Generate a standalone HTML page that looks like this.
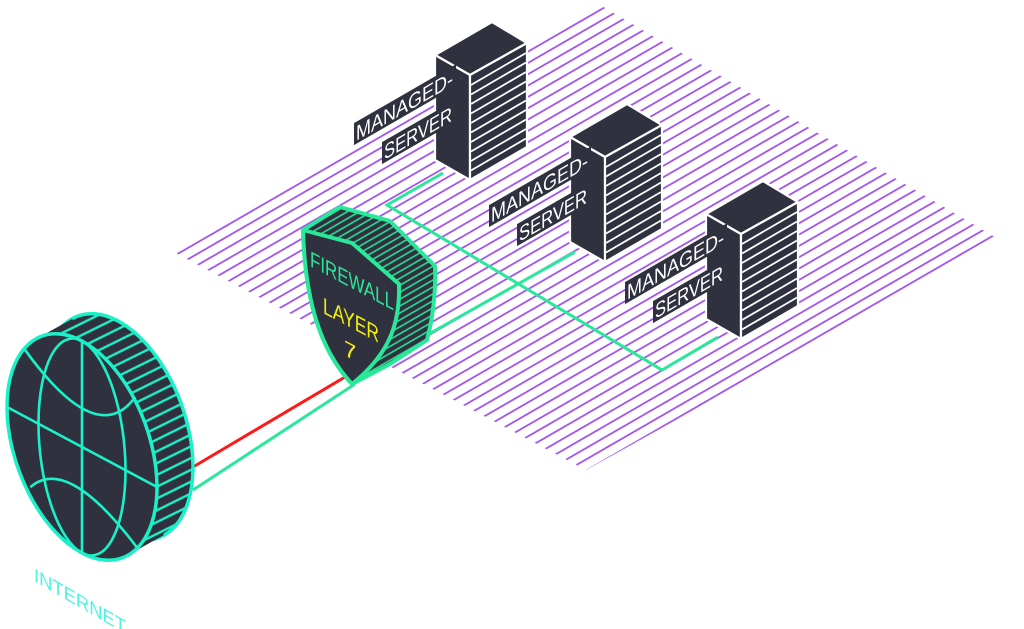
<!DOCTYPE html>
<html><head><meta charset="utf-8"><style>
html,body{margin:0;padding:0;background:#fff;width:1024px;height:629px;overflow:hidden}
svg{display:block}
text{font-family:"Liberation Sans",sans-serif}
</style></head><body>
<svg width="1024" height="629" viewBox="0 0 1024 629" xmlns="http://www.w3.org/2000/svg">
<defs>
<pattern id="floor" patternUnits="userSpaceOnUse" width="40" height="9.8" patternTransform="rotate(-30)">
<line x1="0" y1="4.9" x2="40" y2="4.9" stroke="#9d4af0" stroke-width="1.8"/>
</pattern>
<clipPath id="fc"><polygon points="170,250 600,5 1000,240 586,470"/></clipPath>
<pattern id="gs" patternUnits="userSpaceOnUse" width="40" height="6" patternTransform="rotate(-30)">
<rect width="40" height="6" fill="#30313f"/>
<line x1="0" y1="3" x2="40" y2="3" stroke="#2ae89a" stroke-width="1.6"/>
</pattern>
<pattern id="cs" patternUnits="userSpaceOnUse" width="40" height="9" patternTransform="rotate(-36)">
<rect width="40" height="9" fill="#30313f"/>
<line x1="0" y1="4.5" x2="40" y2="4.5" stroke="#1cf0c8" stroke-width="2"/>
</pattern>
</defs>

<rect x="0" y="0" width="1024" height="629" fill="url(#floor)" clip-path="url(#fc)"/>

<!-- connectors -->
<g fill="none" stroke="#2ae89a" stroke-width="3">
<polyline points="443,173 387,205 662,370 718,337"/>
<line x1="427" y1="335" x2="575" y2="252"/>
<line x1="193" y1="490" x2="355" y2="384"/>
</g>
<line x1="193" y1="467" x2="345" y2="377" stroke="#ff1a1a" stroke-width="3"/>

<!-- servers -->
<g id="s1">
<g stroke="#fff" stroke-width="2.2" stroke-linejoin="round" fill="#30313f">
<polygon points="435,55 492,22 527,43 470,75"/>
<polygon points="435,55 470,75 470,180 435,160"/>
<polygon points="470,75 527,43 527,147 470,180"/>
</g>
<g stroke="#fff" stroke-width="1.8">
<line x1="471" y1="85" x2="526" y2="53"/><line x1="471" y1="94.5" x2="526" y2="62.5"/>
<line x1="471" y1="104" x2="526" y2="72"/><line x1="471" y1="113.5" x2="526" y2="81.5"/>
<line x1="471" y1="123" x2="526" y2="91"/><line x1="471" y1="132.5" x2="526" y2="100.5"/>
<line x1="471" y1="142" x2="526" y2="110"/><line x1="471" y1="151.5" x2="526" y2="119.5"/>
<line x1="471" y1="161" x2="526" y2="129"/><line x1="471" y1="170.5" x2="526" y2="138.5"/>
</g>
</g>
<use href="#s1" transform="translate(135,82)"/>
<use href="#s1" transform="translate(271,159)"/>

<!-- labels -->
<g transform="translate(356,141) skewY(-30)">
<rect x="-2" y="-19" width="102" height="22" fill="#30313f"/>
<text x="0" y="0" font-size="21" fill="#fff" textLength="97" lengthAdjust="spacingAndGlyphs">MANAGED-</text>
</g>
<g transform="translate(384,160) skewY(-30)">
<rect x="-2" y="-19" width="72" height="22" fill="#30313f"/>
<text x="0" y="0" font-size="21" fill="#fff" textLength="68" lengthAdjust="spacingAndGlyphs">SERVER</text>
</g>
<g transform="translate(491,223) skewY(-30)">
<rect x="-2" y="-19" width="102" height="22" fill="#30313f"/>
<text x="0" y="0" font-size="21" fill="#fff" textLength="97" lengthAdjust="spacingAndGlyphs">MANAGED-</text>
</g>
<g transform="translate(519,242) skewY(-30)">
<rect x="-2" y="-19" width="72" height="22" fill="#30313f"/>
<text x="0" y="0" font-size="21" fill="#fff" textLength="68" lengthAdjust="spacingAndGlyphs">SERVER</text>
</g>
<g transform="translate(627,300) skewY(-30)">
<rect x="-2" y="-19" width="102" height="22" fill="#30313f"/>
<text x="0" y="0" font-size="21" fill="#fff" textLength="97" lengthAdjust="spacingAndGlyphs">MANAGED-</text>
</g>
<g transform="translate(655,319) skewY(-30)">
<rect x="-2" y="-19" width="72" height="22" fill="#30313f"/>
<text x="0" y="0" font-size="21" fill="#fff" textLength="68" lengthAdjust="spacingAndGlyphs">SERVER</text>
</g>

<!-- firewall -->
<path d="M303,230 L340,207 L390,221 L435,266 C436,290 433,318 427,340 L390,364 L352,384 C320,350 305,300 303,230 Z" fill="url(#gs)" stroke="#2ae89a" stroke-width="4" stroke-linejoin="round"/>
<path d="M303,230 L352,243 L399,284 C400,320 392,352 352,384 C320,350 305,300 303,230 Z" fill="#30313f" stroke="#2ae89a" stroke-width="4" stroke-linejoin="round"/>
<g transform="translate(310,266) skewY(28)">
<text x="0" y="0" font-size="22" fill="#2ae89a" textLength="84" lengthAdjust="spacingAndGlyphs">FIREWALL</text>
</g>
<g transform="translate(323,313) skewY(28)">
<text x="0" y="0" font-size="23" fill="#f5f00a" textLength="56" lengthAdjust="spacingAndGlyphs">LAYER</text>
</g>
<g transform="translate(344,355) skewY(28)">
<text x="0" y="0" font-size="22" fill="#f5f00a">7</text>
</g>

<!-- globe -->
<g transform="matrix(0.75,0.4,0,1.06,82,447)" stroke="#1cf0c8" stroke-width="3.5">
<circle cx="48" cy="-37" r="100" fill="url(#cs)" vector-effect="non-scaling-stroke"/>
<polygon points="61,79 -61,-79 -13,-116 109,42" fill="url(#cs)" stroke="none"/>
<circle cx="0" cy="0" r="100" fill="#30313f" vector-effect="non-scaling-stroke"/>
<g fill="none" stroke-width="2.6">
<line x1="0" y1="-100" x2="0" y2="100" vector-effect="non-scaling-stroke"/>
<line x1="-100" y1="0" x2="100" y2="0" vector-effect="non-scaling-stroke"/>
<ellipse cx="0" cy="0" rx="58" ry="100" vector-effect="non-scaling-stroke"/>
<path d="M-76,-63 Q20,-5 71,-74" vector-effect="non-scaling-stroke"/>
<path d="M-69,64 Q-20,15 73,67" vector-effect="non-scaling-stroke"/>
</g>
</g>
<g transform="translate(34,581) skewY(30)">
<text x="0" y="0" font-size="19" fill="#4cf3df" textLength="92" lengthAdjust="spacingAndGlyphs">INTERNET</text>
</g>
</svg>
</body></html>
